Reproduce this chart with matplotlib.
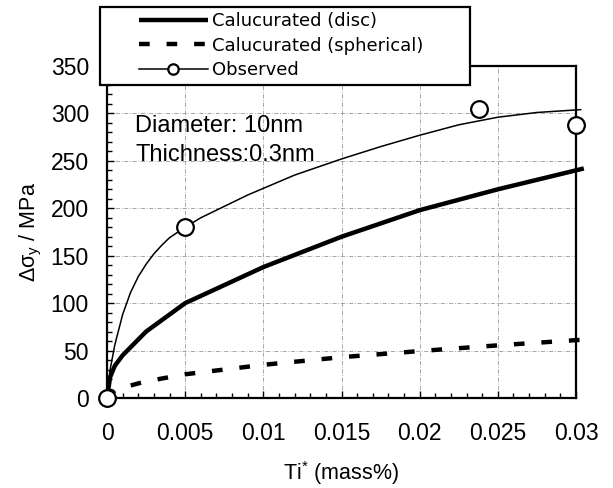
import matplotlib
matplotlib.use("Agg")
import matplotlib.pyplot as plt
from matplotlib.ticker import MultipleLocator
from matplotlib.patches import Rectangle

plt.rcParams['font.family'] = ['Liberation Sans', 'DejaVu Sans']
plt.rcParams['mathtext.fontset'] = 'custom'
plt.rcParams['mathtext.rm'] = 'Liberation Sans'

# ---- data ----
disc_x = [0, 0.0002, 0.0005, 0.001, 0.0025, 0.005, 0.01, 0.015, 0.02, 0.025, 0.03, 0.0305]
disc_y = [0, 22, 34, 45, 70, 100, 138, 170, 198, 220, 240, 242]

sph_x = [0, 0.0005, 0.001, 0.0025, 0.005, 0.01, 0.015, 0.02, 0.025, 0.03, 0.0305]
sph_y = [0, 8, 11, 17.5, 25, 35, 43, 49.5, 55.5, 61, 61.5]

fit_x = [0, 0.0002, 0.0005, 0.001, 0.0015, 0.002, 0.0025, 0.003, 0.0035, 0.004,
         0.005, 0.006, 0.007, 0.008, 0.009, 0.01, 0.012, 0.015, 0.0175, 0.02,
         0.0225, 0.025, 0.0275, 0.0303]
fit_y = [0, 30, 56, 88, 111, 128, 141, 152, 161, 169,
         180, 190, 198, 206, 214, 221, 235, 252, 265, 277,
         288, 296, 301, 304]

obs_x = [0, 0.005, 0.0238, 0.03]
obs_y = [0, 180, 305, 288]

xticks = [0, 0.005, 0.01, 0.015, 0.02, 0.025, 0.03]
xticklabels = ['0', '0.005', '0.01', '0.015', '0.02', '0.025', '0.03']
yticks = [0, 50, 100, 150, 200, 250, 300, 350]
legend_labels = ['Calucurated (disc)', 'Calucurated (spherical)', 'Observed']

W, H = 613, 488
fig = plt.figure(figsize=(W / 100, H / 100), dpi=100)
ax = fig.add_axes([107 / W, 1 - 398 / H, (576 - 107) / W, (398 - 66) / H])

l1, = ax.plot(disc_x, disc_y, color='black', lw=3.2, clip_on=False, zorder=3,
              solid_capstyle='butt')
l2, = ax.plot(sph_x, sph_y, color='black', lw=3.2, linestyle=(0, (2.4, 3.8)),
              clip_on=False, zorder=3, dash_capstyle='butt')
ax.plot(fit_x, fit_y, color='black', lw=1.1, clip_on=False, zorder=3)
ax.plot(obs_x, obs_y, linestyle='none', marker='o', ms=12, mfc='white',
        mec='black', mew=1.6, clip_on=False, zorder=5)
# legend proxy for observed
l3, = ax.plot([], [], color='black', lw=1.1, marker='o', ms=7.5, mfc='white',
              mec='black', mew=1.6)

ax.set_xlim(0, 0.03)
ax.set_ylim(0, 350)
ax.set_xticks(xticks)
ax.set_xticklabels(xticklabels)
ax.set_yticks(yticks)
ax.xaxis.set_minor_locator(MultipleLocator(0.001))
ax.yaxis.set_minor_locator(MultipleLocator(10))
ax.tick_params(which='both', direction='in', labelsize=16.5, width=1.0)
ax.tick_params(which='major', length=5)
ax.tick_params(which='minor', length=3.5)
ax.tick_params(axis='x', which='major', pad=17)
ax.tick_params(axis='y', which='major', pad=13)
ax.tick_params(top=False, right=False, which='both')

ax.grid(True, which='major', color='0.6', lw=0.6, linestyle=(0, (5, 2, 1, 2)))
for s in ax.spines.values():
    s.set_linewidth(1.6)

ax.set_xlabel(r'Ti$^{\mathregular{*}}$ (mass%)', fontsize=15.5)
ax.xaxis.set_label_coords(0.498, -0.185)
ax.set_ylabel(r'$\mathregular{\Delta\sigma_y}$ / MPa', fontsize=15.5)
ax.yaxis.set_label_coords(-0.135, 0.5)

ax.text(0.0018, 280, 'Diameter: 10nm', fontsize=17, ha='left', va='baseline')
ax.text(0.0018, 250, 'Thichness:0.3nm', fontsize=17, ha='left', va='baseline')

# legend frame drawn as a figure rectangle, legend entries inside it
frame = Rectangle((100 / W, 1 - 85 / H), 370 / W, 78 / H, transform=fig.transFigure,
                  facecolor='white', edgecolor='black', lw=1.6, zorder=4)
fig.patches.append(frame)
leg = fig.legend([l1, l2, l3], legend_labels,
                 loc='upper left', bbox_to_anchor=(139 / W, 1 - 12 / H),
                 prop={'family': 'DejaVu Sans', 'size': 13},
                 handlelength=3.8, handletextpad=0.22,
                 labelspacing=0.37, borderpad=0, borderaxespad=0,
                 frameon=False)
leg.set_zorder(5)

fig.savefig('out.png', dpi=100)
